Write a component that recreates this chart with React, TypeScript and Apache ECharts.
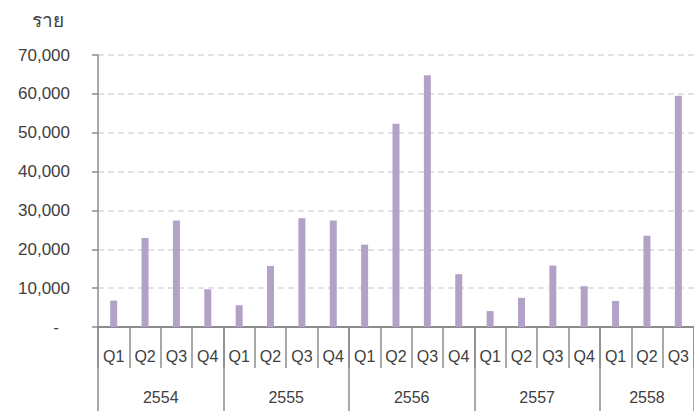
import React, { useEffect, useRef } from "react";
import * as echarts from "echarts";

const quarters = ["Q1","Q2","Q3","Q4","Q1","Q2","Q3","Q4","Q1","Q2","Q3","Q4","Q1","Q2","Q3","Q4","Q1","Q2","Q3"];
const values = [6800, 22900, 27400, 9700, 5600, 15700, 28000, 27400, 21200, 52300, 64800, 13600, 4100, 7500, 15800, 10500, 6700, 23500, 59500];
const years = ["2554", "2555", "2556", "2557", "2558"];
// quarters per year
const yearQuarterCounts = [4, 4, 4, 4, 3];
const unitLabel = "ราย";

const FONT = "'Liberation Sans', Tahoma, 'Noto Sans', sans-serif";
const TEXT = "#404040";
const AXIS = "#8c8c8c";

export default function App() {
  const ref = useRef<HTMLDivElement>(null);
  useEffect(() => {
    if (!ref.current) return;
    const chart = echarts.init(ref.current, undefined, { renderer: "svg" });

    // build half-quarter positions axis for the year level
    const total = yearQuarterCounts.reduce((a, b) => a + b, 0);
    const halfCount = total * 2 + 1;
    const yearData: string[] = new Array(halfCount).fill("");
    const labelIdx: number[] = [];
    const tickIdx: number[] = [0];
    let start = 0;
    yearQuarterCounts.forEach((c, i) => {
      const center = start * 2 + c;
      yearData[center] = years[i];
      labelIdx.push(center);
      start += c;
      tickIdx.push(start * 2);
    });

    chart.setOption({
      animation: false,
      title: {
        text: unitLabel,
        left: 27,
        top: 6,
        textStyle: { fontFamily: FONT, fontSize: 19, fontWeight: "normal", color: TEXT },
      },
      grid: { left: 98, right: 0, top: 55, bottom: 87 },
      xAxis: [
        {
          type: "category",
          data: quarters,
          axisLine: { show: true, lineStyle: { color: AXIS, width: 2 } },
          axisTick: { show: true, interval: 0, length: 41, lineStyle: { color: AXIS, width: 1.5 } },
          axisLabel: { interval: 0, margin: 21, fontFamily: FONT, fontSize: 16, color: TEXT },
          splitLine: { show: false },
        },
        {
          type: "category",
          data: yearData,
          position: "bottom",
          boundaryGap: false,
          axisLine: { show: false },
          axisTick: {
            show: true,
            length: 84,
            interval: (idx: number) => tickIdx.includes(idx),
            lineStyle: { color: AXIS, width: 1.5 },
          },
          axisLabel: {
            interval: (idx: number) => labelIdx.includes(idx),
            margin: 62,
            fontFamily: FONT,
            fontSize: 16,
            color: TEXT,
          },
          splitLine: { show: false },
        },
      ],
      yAxis: {
        type: "value",
        min: 0,
        max: 70000,
        interval: 10000,
        axisLine: { show: true, lineStyle: { color: AXIS, width: 1.5 } },
        axisTick: { show: true, length: 6, lineStyle: { color: AXIS, width: 1.5 } },
        axisLabel: {
          margin: 28,
          fontFamily: FONT,
          fontSize: 17,
          color: TEXT,
          formatter: (v: number) => (v === 0 ? "{z|-}" : v.toLocaleString("en-US")),
          rich: { z: { fontFamily: FONT, fontSize: 17, color: TEXT, padding: [0, 11, 0, 0] } },
        },
        splitLine: { show: true, lineStyle: { color: "#d9d9d9", type: [6, 4], width: 1.5 } },
      },
      series: [
        {
          type: "bar",
          data: values,
          xAxisIndex: 0,
          barWidth: 7,
          itemStyle: { color: "#b3a2c7" },
        },
      ],
    });
    return () => chart.dispose();
  }, []);
  return (
    <div
      ref={ref}
      style={{ position: "fixed", left: 0, top: 0, width: 694, height: 414, background: "#fff" }}
    />
  );
}
